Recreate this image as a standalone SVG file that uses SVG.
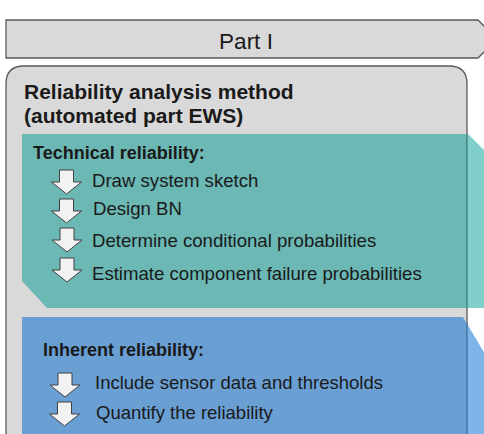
<svg xmlns="http://www.w3.org/2000/svg" width="484" height="434" viewBox="0 0 484 434">
  <style>
    .frame { fill: #d9d9d9; stroke: #595959; stroke-width: 1.3; }
    .txt { font-family: "Liberation Sans", Arial, sans-serif; fill: #1a1a1a; }
    .title { font-size: 21px; font-weight: bold; }
    .head { font-size: 18px; font-weight: bold; }
    .step { font-size: 18.6px; }
    .step2 { font-size: 18.5px; }
    .arrow { fill: #f2f2f2; stroke: #404040; stroke-width: 1; stroke-linejoin: miter; }
  </style>
  <defs>
    <path id="downArrow" d="M-7,0 H7 V12 H15 L0,24 L-15,12 H-7 Z"/>
  </defs>
  <rect width="484" height="434" fill="#ffffff"/>

  <g id="part-banner">
    <polygon class="frame" points="6,20 478,20 497,39 478,58 6,58"/>
    <text class="txt" x="246" y="49" font-size="22.5" text-anchor="middle" fill="#262626">Part I</text>
  </g>

  <g id="method-box">
    <path class="frame" d="M6,450 V84 Q6,66 24,66 H449 Q467,66 467,84 V450"/>
    <text class="txt title" x="24" y="99">Reliability analysis method</text>
    <text class="txt title" x="24" y="123">(automated part EWS)</text>
  </g>

  <g id="technical-reliability">
    <polygon points="22,134 467,134 467,308 47,308 22,281" fill="#6bb8b5"/>
    <polygon points="467,134 468,134 520,186 520,308 467,308" fill="#80cfcb"/>
    <line x1="467" y1="134" x2="467" y2="308" stroke="#3f7f7d" stroke-width="1.3"/>
    <text class="txt head" x="33" y="159">Technical reliability:</text>
    <text class="txt step" x="92" y="187">Draw system sketch</text>
    <text class="txt step" x="93" y="215">Design BN</text>
    <text class="txt step" x="92" y="247">Determine conditional probabilities</text>
    <text class="txt step" x="92" y="280">Estimate component failure probabilities</text>
  </g>

  <g id="inherent-reliability">
    <polygon points="22,317 463,317 467,323.7 467,440 22,440" fill="#6a9fd4"/>
    <polygon points="467,323.7 500,379 500,440 467,440" fill="#7db3e6"/>
    <line x1="467" y1="323" x2="467" y2="434" stroke="#3d6e9c" stroke-width="1.3"/>
    <text class="txt head" x="43" y="356">Inherent reliability:</text>
    <text class="txt step2" x="95" y="389">Include sensor data and thresholds</text>
    <text class="txt step2" x="96" y="419">Quantify the reliability</text>
  </g>

  <g id="connectors">
    <use href="#downArrow" class="arrow" transform="translate(66.5,170)"/>
    <use href="#downArrow" class="arrow" transform="translate(66.5,199)"/>
    <use href="#downArrow" class="arrow" transform="translate(67,228)"/>
    <use href="#downArrow" class="arrow" transform="translate(67,258)"/>
    <use href="#downArrow" class="arrow" transform="translate(65,373)"/>
    <use href="#downArrow" class="arrow" transform="translate(64.5,402)"/>
  </g>
</svg>
